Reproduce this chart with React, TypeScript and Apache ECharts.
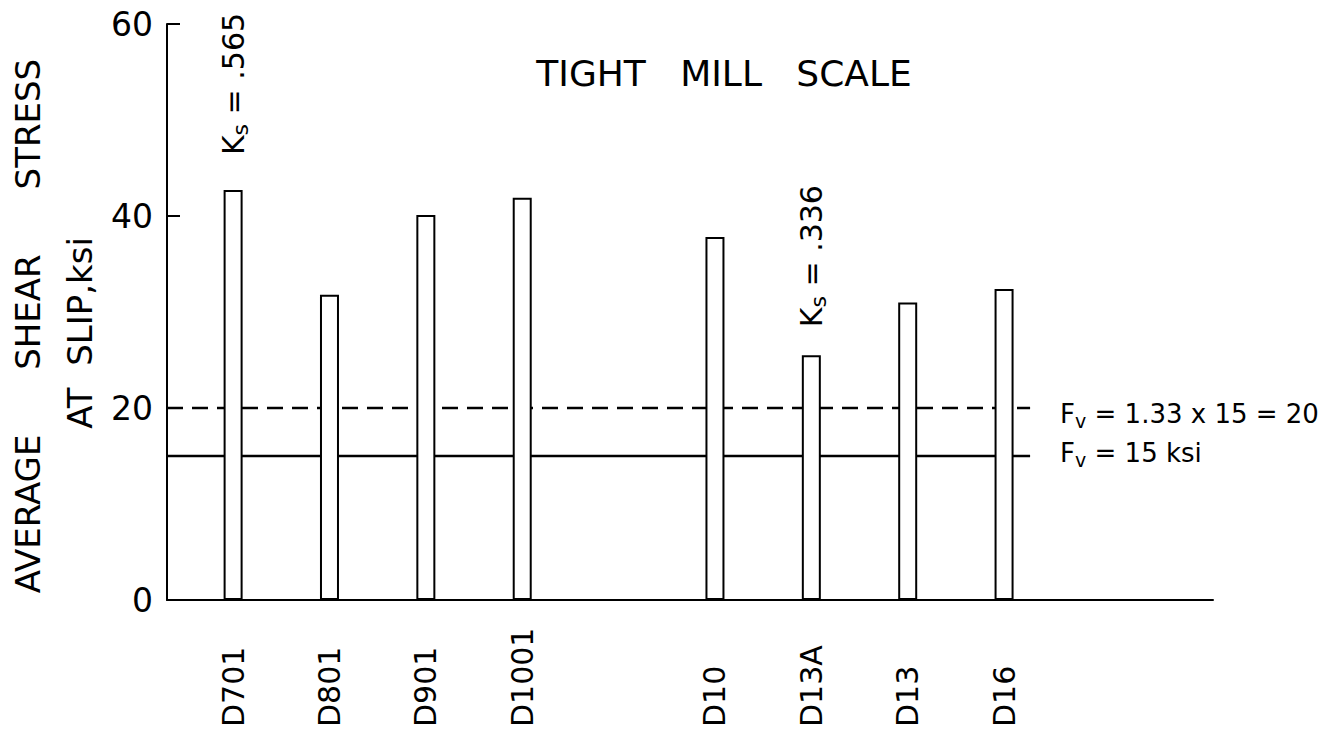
import React, { useEffect, useRef } from "react";
import * as echarts from "echarts";

// ---- data ----
const SPECIMENS = ["D701", "D801", "D901", "D1001", "D10", "D13A", "D13", "D16"];
const POSITIONS = [1, 2, 3, 4, 6, 7, 8, 9];
const SLIP_STRESS = [42.7, 31.8, 40.1, 41.9, 37.8, 25.5, 31.0, 32.4];
const KS_SPECIMENS = ["D701", "D13A"];
const KS_VALUES = [".565", ".336"];
const KS_GAPS = [35, 28];
const Y_MIN = 0;
const Y_MAX = 60;
const Y_STEP = 20;
const FV_ALLOWABLE = 15;
const FV_FACTOR = "1.33";
const FV_INCREASED = 20;
const X_MIN = 0.314;
const X_MAX = 11.168;
const LINE_END = 9.27;

const FONT = '"DejaVu Sans", sans-serif';

const subRich = (big: number, small: number) => ({
  k: { fontSize: big, fontFamily: FONT, color: "#000", lineHeight: big + 7 },
  s: { fontSize: small, fontFamily: FONT, color: "#000", verticalAlign: "bottom" as const },
});

export default function App() {
  const ref = useRef<HTMLDivElement>(null);

  useEffect(() => {
    if (!ref.current) return;
    const chart = echarts.init(ref.current, undefined, { renderer: "svg" });

    const barData = SPECIMENS.map((name, i) => {
      const k = KS_SPECIMENS.indexOf(name);
      const item: any = { name, value: [POSITIONS[i], SLIP_STRESS[i]] };
      if (k >= 0) {
        item.label = {
          show: true,
          position: "top",
          distance: KS_GAPS[k],
          rotate: 90,
          align: "left",
          verticalAlign: "middle",
          formatter: `{k|K}{s|s}{k| = ${KS_VALUES[k]}}`,
          rich: subRich(30, 22),
        };
      }
      return item;
    });

    chart.setOption({
      animation: false,
      backgroundColor: "#fff",
      textStyle: { fontFamily: FONT, color: "#000" },
      grid: { left: 167, right: 130, top: 24, bottom: 136, outerBoundsMode: "none" },
      xAxis: {
        type: "value",
        min: X_MIN,
        max: X_MAX,
        splitLine: { show: false },
        axisTick: { show: false },
        axisLine: { show: true, onZero: false, lineStyle: { color: "#000", width: 2 } },
        axisLabel: {
          customValues: POSITIONS,
          formatter: (v: number) => {
            const i = POSITIONS.indexOf(Math.round(v));
            return i >= 0 ? SPECIMENS[i] : "";
          },
          rotate: 90,
          align: "left",
          verticalAlign: "middle",
          margin: 127,
          fontSize: 30,
          fontFamily: FONT,
          color: "#000",
          hideOverlap: false,
        },
      },
      yAxis: {
        type: "value",
        min: Y_MIN,
        max: Y_MAX,
        interval: Y_STEP,
        splitLine: { show: false },
        axisLine: { show: true, onZero: false, lineStyle: { color: "#000", width: 2 } },
        axisTick: { show: true, inside: true, length: 13, lineStyle: { color: "#000", width: 2 } },
        axisLabel: { fontSize: 33, fontFamily: FONT, color: "#000", margin: 14 },
      },
      series: [
        {
          type: "line",
          silent: true,
          z: 1,
          symbol: "none",
          data: [
            [X_MIN, FV_INCREASED],
            [LINE_END, FV_INCREASED],
          ],
          lineStyle: { color: "#000", width: 2.5, type: [16, 9] },
          endLabel: {
            show: true,
            distance: 30,
            offset: [0, 6],
            formatter: `{k|F}{s|v}{k| = ${FV_FACTOR} x ${FV_ALLOWABLE} = ${FV_INCREASED}}`,
            rich: subRich(26, 19),
          },
        },
        {
          type: "line",
          silent: true,
          z: 1,
          symbol: "none",
          data: [
            [X_MIN, FV_ALLOWABLE],
            [LINE_END, FV_ALLOWABLE],
          ],
          lineStyle: { color: "#000", width: 2.5, type: "solid" },
          endLabel: {
            show: true,
            distance: 30,
            offset: [0, -3],
            formatter: `{k|F}{s|v}{k| = ${FV_ALLOWABLE} ksi}`,
            rich: subRich(26, 19),
          },
        },
        {
          type: "bar",
          silent: true,
          z: 3,
          barWidth: 19,
          itemStyle: { color: "#fff", borderColor: "#000", borderWidth: 2 },
          data: barData,
        },
      ],
      graphic: [
        {
          type: "text",
          x: 724,
          y: 73,
          style: {
            text: "TIGHT   MILL   SCALE",
            fontSize: 36,
            fontFamily: FONT,
            fill: "#000",
            align: "center",
            verticalAlign: "middle",
          },
        },
        {
          type: "text",
          x: 28,
          y: 326,
          rotation: Math.PI / 2,
          style: {
            text: "AVERAGE      SHEAR      STRESS",
            fontSize: 34,
            fontFamily: FONT,
            fill: "#000",
            align: "center",
            verticalAlign: "middle",
          },
        },
        {
          type: "text",
          x: 80,
          y: 333,
          rotation: Math.PI / 2,
          style: {
            text: "AT  SLIP,ksi",
            fontSize: 34,
            fontFamily: FONT,
            fill: "#000",
            align: "center",
            verticalAlign: "middle",
          },
        },
      ],
    });

    return () => chart.dispose();
  }, []);

  return (
    <div
      ref={ref}
      style={{ position: "absolute", left: 0, top: 0, width: 1343, height: 736, background: "#fff" }}
    />
  );
}
